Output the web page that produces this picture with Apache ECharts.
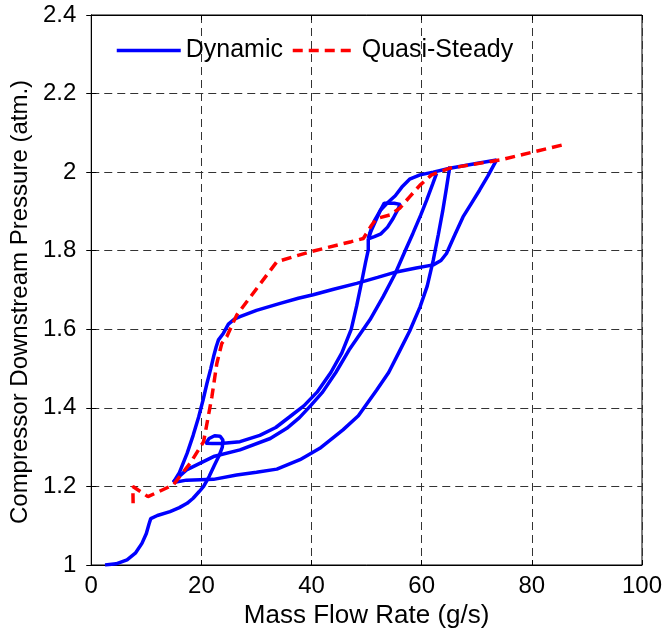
<!DOCTYPE html>
<html>
<head>
<meta charset="utf-8">
<script src="https://cdn.jsdelivr.net/npm/echarts@6/dist/echarts.min.js"></script>
<style>
html,body{margin:0;padding:0;background:#fff;}
#chart{width:667px;height:635px;}
</style>
</head>
<body>
<div id="chart"></div>
<script>
// ---- data (mass flow g/s, pressure atm) ----
var dynStartup = [[2.5,1.0],[4.5,1.003],[6.5,1.013],[8,1.03],[9.2,1.055],[10,1.08],[10.5,1.105],[10.8,1.118],[12,1.126],[14.3,1.136],[16,1.146],[17.4,1.157],[18.5,1.17],[19.6,1.187],[20.4,1.2],[21.4,1.225],[22.4,1.255],[23.2,1.278],[23.8,1.3],[23.9,1.318],[23.4,1.328],[22.4,1.329],[21.4,1.322],[20.8,1.31],[22,1.309],[24,1.31],[27,1.314],[30.6,1.33],[33.5,1.35],[36.1,1.378],[38.6,1.405],[41,1.44],[43.5,1.49],[45.5,1.54],[47.2,1.6],[48.2,1.66],[49.1,1.721],[49.8,1.77],[50.3,1.802],[50.3,1.83]];
var dynSmallLoop = [[50.3,1.83],[51.4,1.836],[52.6,1.843],[53.8,1.86],[54.8,1.882],[55.6,1.903],[56.1,1.918],[55,1.921],[53.2,1.921],[52.4,1.9],[51.5,1.872],[50.8,1.85],[50.3,1.83]];
var dynUpperArc = [[50.3,1.83],[50.6,1.846],[51.4,1.876],[52.5,1.903],[53.8,1.922],[55.2,1.94],[56.4,1.962],[57.8,1.982],[59.7,1.993],[62.1,2.0],[65.1,2.01],[69.9,2.022],[73.6,2.031]];
var dynMidLevel = [[14.9,1.21],[16,1.235],[17.4,1.284],[18.5,1.33],[19.5,1.377],[20.3,1.42],[21,1.462],[21.7,1.5],[22.2,1.53],[22.7,1.556],[23.1,1.573],[24,1.59],[24.9,1.613],[26,1.626],[27,1.632],[30,1.648],[34.3,1.666],[37.6,1.679],[40.3,1.688],[44,1.702],[48.2,1.717],[52,1.732],[55.4,1.746],[59,1.756],[62.1,1.764],[63.5,1.775],[64.5,1.793],[66,1.84],[67.5,1.886],[69,1.92],[70.5,1.954],[72,1.99],[73.6,2.031]];
var dynLowBranch = [[14.9,1.21],[17.3,1.216],[22.2,1.218],[26.4,1.229],[30,1.236],[33.7,1.244],[37.9,1.268],[41.5,1.297],[45.7,1.344],[48.5,1.38],[51.8,1.445],[54,1.49],[56,1.545],[57.8,1.595],[59.7,1.657],[61,1.71],[62.1,1.776],[63,1.84],[63.8,1.9],[64.5,1.96],[65.1,2.014]];
var dynMidBranch = [[14.9,1.212],[17.3,1.242],[22.2,1.276],[27,1.293],[32.5,1.322],[35.5,1.348],[37.8,1.375],[39.8,1.405],[42,1.44],[44.4,1.49],[46.8,1.547],[50.6,1.624],[53,1.683],[55.2,1.742],[57,1.8],[58.4,1.844],[59.8,1.89],[60.9,1.929],[62,1.97],[62.7,1.997]];
var quasiSteady = [[7.6,1.157],[7.55,1.2],[10.3,1.174],[14.9,1.204],[18,1.26],[20.4,1.314],[21.9,1.428],[22.8,1.513],[23.7,1.564],[24.6,1.581],[26.4,1.636],[33.7,1.772],[39.7,1.797],[47.2,1.823],[49.4,1.831],[50.9,1.865],[51.8,1.882],[54.2,1.891],[56,1.908],[57.8,1.937],[59.7,1.967],[61.8,1.993],[65.1,2.01],[74.2,2.031],[85.5,2.069]];
var dynamicSegments = [dynStartup, dynSmallLoop, dynUpperArc, dynMidLevel, dynLowBranch, dynMidBranch];
var xTicks = [0,20,40,60,80,100];
var yTicks = [1,1.2,1.4,1.6,1.8,2,2.2,2.4];
var seriesNames = ['Dynamic','Quasi-Steady'];

var FONT = '"Liberation Sans", Arial, sans-serif';
var chart = echarts.init(document.getElementById('chart'), null, {renderer:'canvas'});
var series = [];
dynamicSegments.forEach(function(seg){
  series.push({name:seriesNames[0], type:'line', data:seg, showSymbol:false, symbol:'none',
    lineStyle:{color:'#0000ff', width:3.5, type:'solid'}, itemStyle:{color:'#0000ff'}, z:2, animation:false});
});
series.push({name:seriesNames[1], type:'line', data:quasiSteady, showSymbol:false, symbol:'none',
  lineStyle:{color:'#ff0000', width:3.5, type:[10,6]}, itemStyle:{color:'#ff0000'}, z:3, animation:false});

var gridLine = {show:true, lineStyle:{color:'#333', width:1, type:[8,5]}};
chart.setOption({
  animation:false,
  backgroundColor:'#fff',
  grid:{left:91, right:25, top:15, bottom:70, show:true, borderColor:'#000', borderWidth:1},
  legend:{data:seriesNames, left:110, top:33, itemWidth:64, itemHeight:14, itemGap:8,
    itemStyle:{opacity:0}, lineStyle:{width:3.5},
    textStyle:{fontFamily:FONT, fontSize:25, color:'#000'}},
  xAxis:[{type:'value', min:xTicks[0], max:xTicks[xTicks.length-1], interval:20,
    name:'Mass Flow Rate (g/s)', nameLocation:'middle', nameGap:27,
    nameTextStyle:{fontFamily:FONT, fontSize:26, color:'#000'},
    axisLine:{show:true, lineStyle:{color:'#000'}},
    axisTick:{show:true, inside:true, length:5, lineStyle:{color:'#000'}},
    axisLabel:{fontFamily:FONT, fontSize:24, color:'#000', margin:9},
    splitLine:gridLine},
    {type:'value', position:'top', min:xTicks[0], max:xTicks[xTicks.length-1], interval:20,
    axisLine:{show:true, lineStyle:{color:'#000'}},
    axisTick:{show:true, inside:true, length:5, lineStyle:{color:'#000'}},
    axisLabel:{show:false}, splitLine:{show:false}}],
  yAxis:[{type:'value', min:yTicks[0], max:yTicks[yTicks.length-1], interval:0.2,
    name:'Compressor Downstream Pressure (atm.)', nameLocation:'middle', nameGap:47,
    nameTextStyle:{fontFamily:FONT, fontSize:24, color:'#000', padding:[0,24,0,0]},
    axisLine:{show:true, lineStyle:{color:'#000'}},
    axisTick:{show:true, inside:true, length:5, lineStyle:{color:'#000'}},
    axisLabel:{fontFamily:FONT, fontSize:24, color:'#000', margin:15,
      formatter:function(v){return String(Math.round(v*10)/10);}},
    splitLine:gridLine},
    {type:'value', position:'right', min:yTicks[0], max:yTicks[yTicks.length-1], interval:0.2,
    axisLine:{show:true, lineStyle:{color:'#000'}},
    axisTick:{show:true, inside:true, length:5, lineStyle:{color:'#000'}},
    axisLabel:{show:false}, splitLine:{show:false}}],
  series:series
});
</script>
</body>
</html>
